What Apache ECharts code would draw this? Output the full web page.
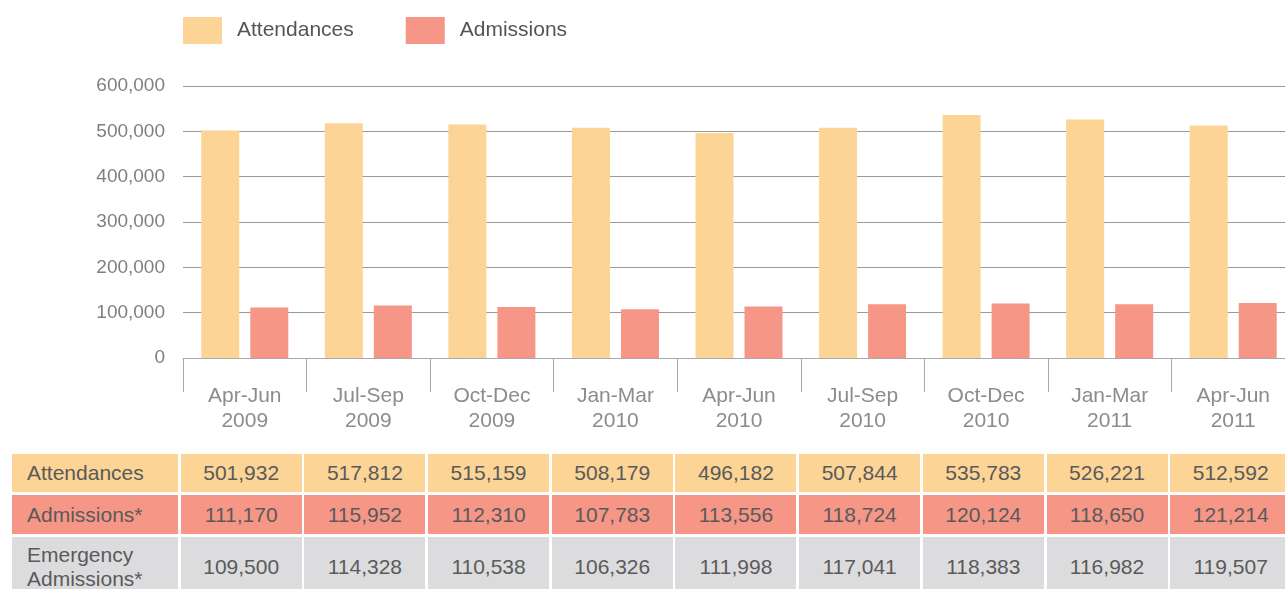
<!DOCTYPE html>
<html>
<head>
<meta charset="utf-8">
<script src="https://cdn.jsdelivr.net/npm/echarts@6/dist/echarts.min.js"></script>
<style>
  html, body { margin: 0; padding: 0; background: #fff; overflow: hidden; width: 1285px; height: 589px; }
  /* the plot runs past the right edge of the page in the original, so the canvas is wider */
  #chart { position: absolute; left: 0; top: 0; width: 1300px; height: 440px; }
  #table {
    position: absolute; left: 12px; top: 454px;
    display: grid;
    grid-template-columns: 166px repeat(9, 121px);
    grid-template-rows: 38px 39px 60px;
    column-gap: 2.7px; row-gap: 3px;
    font-family: 'Liberation Sans', Arial, sans-serif;
    font-size: 21px; color: #5a5a5a;
  }
  #table div { display: flex; align-items: center; justify-content: center; line-height: 24px; }
  #table div.lbl { justify-content: flex-start; padding-left: 15px; }
  .att { background: #fcd496; }
  .adm { background: #f69686; }
  .emg { background: #dcdcde; }
</style>
</head>
<body>
<div id="chart"></div>
<div id="table"></div>
<script>
// quarters shown on the x axis (two-line labels)
const quarters = ['Apr-Jun\n2009', 'Jul-Sep\n2009', 'Oct-Dec\n2009', 'Jan-Mar\n2010', 'Apr-Jun\n2010',
  'Jul-Sep\n2010', 'Oct-Dec\n2010', 'Jan-Mar\n2011', 'Apr-Jun\n2011']
const attendances = [501932, 517812, 515159, 508179, 496182, 507844, 535783, 526221, 512592]
const admissions = [111170, 115952, 112310, 107783, 113556, 118724, 120124, 118650, 121214]
const emergencyAdmissions = [109500, 114328, 110538, 106326, 111998, 117041, 118383, 116982, 119507]
const rowLabels = ['Attendances', 'Admissions*', 'Emergency<br>Admissions*']

const FONT = "'Liberation Sans', Arial, sans-serif"
const fmt = (v) => v.toLocaleString('en-US')

const chart = echarts.init(document.getElementById('chart'))
chart.setOption({
  animation: false,
  backgroundColor: 'transparent',
  textStyle: { fontFamily: FONT },
  legend: {
    left: 183, top: 17, padding: 0,
    itemWidth: 39, itemHeight: 27, itemGap: 52,
    icon: 'rect',
    textStyle: { color: '#555', fontSize: 21, padding: [0, 0, 0, 10] },
    data: ['Attendances', 'Admissions'],
  },
  grid: { left: 183, top: 86, width: 1112, height: 272 },
  xAxis: {
    type: 'category',
    data: quarters,
    axisLine: { lineStyle: { color: '#a8a8a8', width: 1 } },
    axisTick: { show: true, interval: 0, length: 34, lineStyle: { color: '#a8a8a8' } },
    axisLabel: { interval: 0, color: '#8c8c8c', fontSize: 21, lineHeight: 25, margin: 26 },
  },
  yAxis: {
    type: 'value',
    min: 0, max: 600000, interval: 100000,
    axisLine: { show: false },
    axisTick: { show: false },
    axisLabel: { color: '#7f7f7f', fontSize: 19, margin: 18, formatter: (v) => fmt(v) },
    splitLine: { lineStyle: { color: '#9a9a9a', width: 1 } },
  },
  series: [
    { name: 'Attendances', type: 'bar', data: attendances, barWidth: 38, barGap: '29%',
      itemStyle: { color: '#fcd496' } },
    { name: 'Admissions', type: 'bar', data: admissions, barWidth: 38,
      itemStyle: { color: '#f69686' } },
  ],
})

// data table under the chart
const rows = [
  ['att', attendances],
  ['adm', admissions],
  ['emg', emergencyAdmissions],
]
const table = document.getElementById('table')
rows.forEach(([cls, values], i) => {
  table.insertAdjacentHTML('beforeend', `<div class="lbl ${cls}">${rowLabels[i]}</div>`)
  values.forEach((v) => table.insertAdjacentHTML('beforeend', `<div class="${cls}">${fmt(v)}</div>`))
})
</script>
</body>
</html>
